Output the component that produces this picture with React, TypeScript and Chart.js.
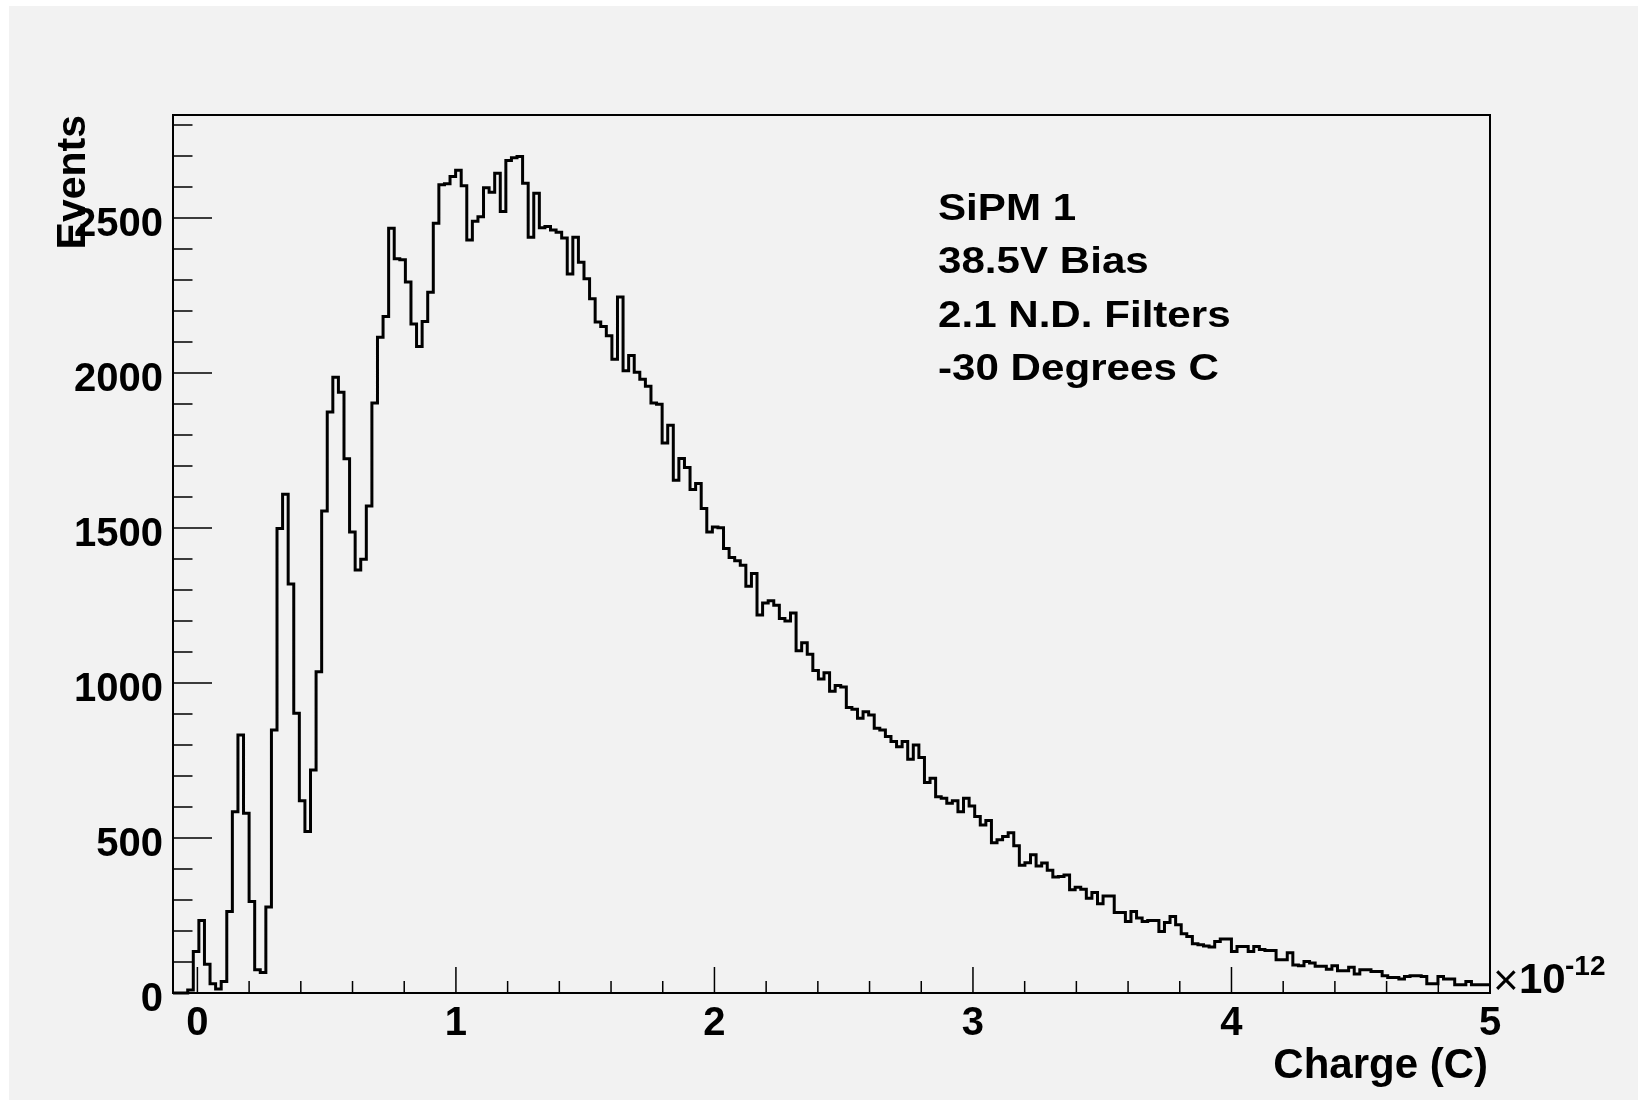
import React, { useEffect, useRef } from 'react';
import { Chart, registerables } from 'chart.js';

Chart.register(...registerables);

// Axis ranges (charge in units of 1e-12 C)
const X_AXIS_MIN = -0.0944;
const X_AXIS_MAX = 5;
const Y_AXIS_MAX = 2832;

// Histogram binning
const BIN_LOW_EDGE = -0.0375;
const BIN_WIDTH = 0.02159;

// Events per bin
const eventCounts = [
  10, 134, 234, 93, 30, 13, 37, 263, 585, 832,
  580, 295, 75, 66, 277, 848, 1498, 1609, 1319, 902,
  620, 521, 719, 1036, 1555, 1874, 1986, 1938, 1723, 1487,
  1364, 1399, 1571, 1903, 2115, 2182, 2467, 2368, 2365, 2293,
  2158, 2085, 2166, 2260, 2483, 2607, 2610, 2634, 2654, 2604,
  2429, 2489, 2504, 2597, 2583, 2644, 2521, 2685, 2694, 2698,
  2612, 2438, 2580, 2468, 2472, 2461, 2454, 2435, 2319, 2438,
  2357, 2304, 2239, 2164, 2150, 2120, 2044, 2245, 2007, 2056,
  2002, 1980, 1957, 1903, 1899, 1774, 1831, 1654, 1724, 1695,
  1624, 1643, 1563, 1487, 1503, 1501, 1434, 1405, 1394, 1380,
  1312, 1353, 1219, 1258, 1265, 1251, 1208, 1200, 1226, 1104,
  1130, 1093, 1040, 1013, 1033, 973, 992, 987, 921, 915,
  886, 907, 897, 854, 848, 827, 811, 794, 811, 754,
  800, 760, 679, 693, 633, 628, 612, 620, 585, 628,
  603, 569, 542, 556, 485, 494, 505, 517, 475, 412,
  420, 446, 410, 419, 396, 374, 376, 381, 333, 341,
  335, 306, 324, 288, 313, 313, 260, 260, 231, 263,
  242, 231, 234, 234, 198, 227, 247, 220, 191, 182,
  159, 156, 152, 148, 166, 174, 174, 134, 150, 150,
  134, 150, 140, 137, 137, 107, 107, 130, 90, 88,
  102, 97, 86, 86, 77, 88, 72, 72, 83, 61,
  75, 75, 69, 69, 56, 50, 50, 45, 53, 56,
  56, 53, 30, 30, 53, 45, 45, 27, 27, 37,
  27, 27, 27, 27,
];

const xTickValues = [0, 1, 2, 3, 4, 5];
const xTickLabels = ['0', '1', '2', '3', '4', '5'];
const yTickValues = [0, 500, 1000, 1500, 2000, 2500];
const yTickLabels = ['0', '500', '1000', '1500', '2000', '2500'];
const X_MINOR_STEP = 0.2;
const Y_MINOR_STEP = 100;

const infoLines = ['SiPM 1', '38.5V Bias', '2.1 N.D. Filters', '-30 Degrees C'];
const xAxisTitle = 'Charge (C)';
const yAxisTitle = 'Events';
const xExponentBase = '10';
const xExponentPower = '-12';

const FONT = '"Liberation Sans", Arial, Helvetica, sans-serif';

function buildPoints() {
  const pts: { x: number; y: number }[] = [{ x: X_AXIS_MIN, y: 0 }];
  eventCounts.forEach((v, i) => {
    pts.push({ x: BIN_LOW_EDGE + i * BIN_WIDTH, y: v });
  });
  const n = eventCounts.length;
  pts.push({ x: BIN_LOW_EDGE + n * BIN_WIDTH, y: eventCounts[n - 1] });
  return pts;
}

const rootStylePlugin = {
  id: 'rootStyle',
  beforeDraw(chart: any) {
    const ctx = chart.ctx;
    ctx.save();
    ctx.fillStyle = '#ffffff';
    ctx.fillRect(0, 0, chart.width, chart.height);
    ctx.fillStyle = '#f2f2f2';
    ctx.fillRect(9, 6, chart.width - 9, chart.height - 6);
    ctx.restore();
  },
  afterDraw(chart: any) {
    const { ctx, chartArea: a, scales } = chart;
    const xs = scales.x;
    const ys = scales.y;
    ctx.save();
    ctx.strokeStyle = '#000';
    ctx.fillStyle = '#000';

    // y ticks (inside the frame, on the left axis)
    ctx.lineWidth = 1.5;
    ctx.beginPath();
    for (let i = 0; i * Y_MINOR_STEP <= Y_AXIS_MAX; i++) {
      const v = i * Y_MINOR_STEP;
      const y = ys.getPixelForValue(v);
      const len = v % 500 === 0 ? 39 : 19.5;
      ctx.moveTo(a.left, y);
      ctx.lineTo(a.left + len, y);
    }
    // x ticks (inside the frame, on the bottom axis)
    const iStart = Math.ceil(X_AXIS_MIN / X_MINOR_STEP - 1e-9);
    const iEnd = Math.floor(X_AXIS_MAX / X_MINOR_STEP + 1e-9);
    for (let i = iStart; i <= iEnd; i++) {
      const t = i * X_MINOR_STEP;
      const x = xs.getPixelForValue(t);
      const len = i % 5 === 0 ? 26 : 12;
      ctx.moveTo(x, a.bottom);
      ctx.lineTo(x, a.bottom - len);
    }
    ctx.stroke();

    // frame
    ctx.lineWidth = 2;
    ctx.strokeRect(a.left, a.top, a.right - a.left, a.bottom - a.top);

    // y tick labels
    ctx.font = `bold 40px ${FONT}`;
    ctx.textAlign = 'right';
    ctx.textBaseline = 'alphabetic';
    yTickValues.forEach((v, i) => {
      ctx.fillText(yTickLabels[i], a.left - 10, ys.getPixelForValue(v) + 18);
    });

    // x tick labels
    ctx.textAlign = 'center';
    xTickValues.forEach((v, i) => {
      ctx.fillText(xTickLabels[i], xs.getPixelForValue(v), a.bottom + 42);
    });

    // x axis title
    ctx.font = `bold 42px ${FONT}`;
    ctx.textAlign = 'right';
    ctx.fillText(xAxisTitle, a.right - 2, a.bottom + 85);

    // exponent
    ctx.textAlign = 'left';
    ctx.font = `44px ${FONT}`;
    ctx.fillText('\u00d7', a.right + 3, a.bottom + 2);
    ctx.font = `bold 42px ${FONT}`;
    ctx.fillText(xExponentBase, a.right + 29, a.bottom);
    ctx.font = `bold 28px ${FONT}`;
    ctx.fillText(xExponentPower, a.right + 75, a.bottom - 18);

    // y axis title (rotated)
    ctx.save();
    ctx.translate(85, a.top);
    ctx.rotate(-Math.PI / 2);
    ctx.font = `bold 41px ${FONT}`;
    ctx.textAlign = 'right';
    ctx.fillText(yAxisTitle, 0, 0);
    ctx.restore();

    // info text block
    ctx.font = `bold 36px ${FONT}`;
    ctx.textAlign = 'left';
    infoLines.forEach((line, i) => {
      ctx.save();
      ctx.translate(938, 220 + i * 53.3);
      ctx.scale(1.17, 1);
      ctx.fillText(line, 0, 0);
      ctx.restore();
    });

    ctx.restore();
  },
};

export default function App() {
  const canvasRef = useRef<HTMLCanvasElement | null>(null);

  useEffect(() => {
    const canvas = canvasRef.current;
    if (!canvas) return;
    const chart = new Chart(canvas, {
      type: 'line',
      data: {
        datasets: [
          {
            label: 'SiPM 1',
            data: buildPoints(),
            borderColor: '#000000',
            borderWidth: 3,
            pointRadius: 0,
            fill: false,
            stepped: 'before',
            tension: 0,
            clip: { left: 0, top: 5, right: 0, bottom: 3 },
          } as any,
        ],
      },
      options: {
        animation: false,
        responsive: false,
        maintainAspectRatio: false,
        devicePixelRatio: 1,
        layout: { padding: { left: 0, top: 115, right: 148, bottom: 0 } },
        plugins: {
          legend: { display: false },
          tooltip: { enabled: false },
          title: { display: false },
        },
        scales: {
          x: {
            type: 'linear',
            min: X_AXIS_MIN,
            max: X_AXIS_MAX,
            grid: { display: false },
            border: { display: false },
            ticks: { display: false },
            afterFit: (s: any) => {
              s.height = 107;
            },
          },
          y: {
            type: 'linear',
            min: 0,
            max: Y_AXIS_MAX,
            grid: { display: false },
            border: { display: false },
            ticks: { display: false },
            afterFit: (s: any) => {
              s.width = 173;
            },
          },
        },
      },
      plugins: [rootStylePlugin],
    });
    return () => chart.destroy();
  }, []);

  return (
    <canvas
      ref={canvasRef}
      width={1638}
      height={1100}
      style={{ position: 'absolute', left: 0, top: 0, display: 'block' }}
    />
  );
}
